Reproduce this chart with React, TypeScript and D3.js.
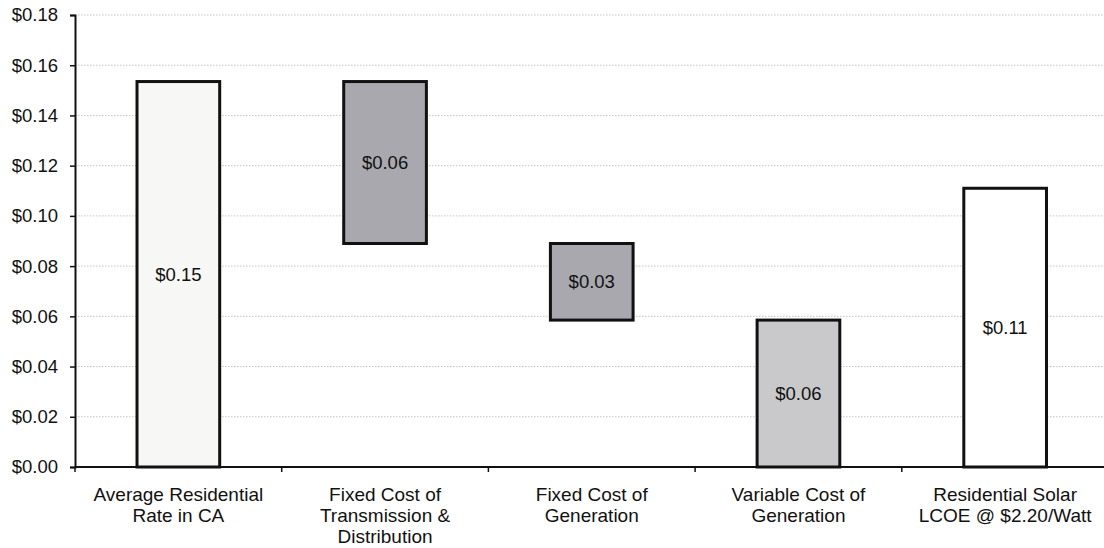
import React, { useEffect, useRef } from "react";
import * as d3 from "d3";

// Cost components, $/kWh
const categories = [
  "Average Residential Rate in CA",
  "Fixed Cost of Transmission & Distribution",
  "Fixed Cost of Generation",
  "Variable Cost of Generation",
  "Residential Solar LCOE @ $2.20/Watt",
];
const labelLines = [
  ["Average Residential", "Rate in CA"],
  ["Fixed Cost of", "Transmission &", "Distribution"],
  ["Fixed Cost of", "Generation"],
  ["Variable Cost of", "Generation"],
  ["Residential Solar", "LCOE @ $2.20/Watt"],
];
const values = [0.1535, 0.0645, 0.0305, 0.0585, 0.111];
// "total" bars rise from zero; "step" bars hang from the running total
const kinds = ["total", "step", "step", "step", "total"];
const fills = ["#f7f7f5", "#a8a8ae", "#a8a8ae", "#c9c9cb", "#ffffff"];
const yTicks = [0, 0.02, 0.04, 0.06, 0.08, 0.1, 0.12, 0.14, 0.16, 0.18];

const W = 1104;
const H = 548;
const left = 75;
const top = 15;
const bottom = 467;
const FONT = "'Liberation Sans', Arial, sans-serif";

export default function App() {
  const gRef = useRef<SVGGElement>(null);

  const x = d3
    .scaleBand<string>()
    .domain(categories)
    .range([left, left + 5 * 206.7])
    .paddingInner(0.6)
    .paddingOuter(0.3);
  const y = d3.scaleLinear().domain([0, 0.18]).range([bottom, top]);
  const fmt = d3.format("$.2f");

  // waterfall extents
  let running = 0;
  const bars = values.map((v, i) => {
    let lo: number, hi: number;
    if (kinds[i] === "total") {
      lo = 0;
      hi = v;
      running = v;
    } else {
      hi = running;
      lo = running - v;
      running = lo;
    }
    return { cat: categories[i], v, lo, hi, fill: fills[i] };
  });

  useEffect(() => {
    const g = d3.select(gRef.current);
    g.selectAll("*").remove();

    const yAxis = g
      .append("g")
      .attr("transform", `translate(${left},0)`)
      .call(
        d3
          .axisLeft(y)
          .tickValues(yTicks)
          .tickFormat((d) => fmt(d as number))
          .tickSize(5)
          .tickPadding(12)
      );
    yAxis.select(".domain").attr("stroke", "#111").attr("stroke-width", 2);
    yAxis.selectAll(".tick line").attr("stroke", "#111").attr("stroke-width", 1.5);
    yAxis
      .selectAll(".tick text")
      .attr("font-family", FONT)
      .attr("font-size", 18.5)
      .attr("fill", "#111");

    const step = x.step();
    const bounds = d3.range(0, 6).map((i) => left + i * step);
    const xAxis = g.append("g");
    xAxis
      .append("line")
      .attr("x1", left)
      .attr("x2", W)
      .attr("y1", bottom)
      .attr("y2", bottom)
      .attr("stroke", "#111")
      .attr("stroke-width", 2);
    xAxis
      .selectAll("line.tk")
      .data(bounds)
      .join("line")
      .attr("class", "tk")
      .attr("x1", (d) => d)
      .attr("x2", (d) => d)
      .attr("y1", bottom)
      .attr("y2", bottom + 5)
      .attr("stroke", "#111")
      .attr("stroke-width", 1.5);
  }, []);

  return (
    <svg
      width={W}
      height={H}
      style={{ position: "absolute", left: 0, top: 0, background: "#fff" }}
    >
      <rect width={W} height={H} fill="#fff" />
      {/* dotted gridlines */}
      {yTicks
        .filter((t) => t > 0)
        .map((t) => (
          <line
            key={t}
            x1={left}
            x2={W}
            y1={y(t)}
            y2={y(t)}
            stroke="#c4c4c4"
            strokeWidth={1}
            strokeDasharray="1.5,1.5"
          />
        ))}
      {/* bars */}
      {bars.map((b) => (
        <g key={b.cat}>
          <rect
            x={x(b.cat)}
            y={y(b.hi)}
            width={x.bandwidth()}
            height={y(b.lo) - y(b.hi)}
            fill={b.fill}
            stroke="#111"
            strokeWidth={3}
          />
          <text
            x={(x(b.cat) as number) + x.bandwidth() / 2}
            y={(y(b.lo) + y(b.hi)) / 2}
            textAnchor="middle"
            dominantBaseline="central"
            fontFamily={FONT}
            fontSize={18.5}
            fill="#111"
          >
            {fmt(b.v)}
          </text>
        </g>
      ))}
      <g ref={gRef} />
      {/* category labels */}
      {categories.map((c, i) => (
        <text
          key={c}
          x={(x(c) as number) + x.bandwidth() / 2}
          textAnchor="middle"
          fontFamily={FONT}
          fontSize={19}
          fill="#111"
        >
          {labelLines[i].map((line, j) => (
            <tspan key={j} x={(x(c) as number) + x.bandwidth() / 2} y={501 + j * 21}>
              {line}
            </tspan>
          ))}
        </text>
      ))}
    </svg>
  );
}
